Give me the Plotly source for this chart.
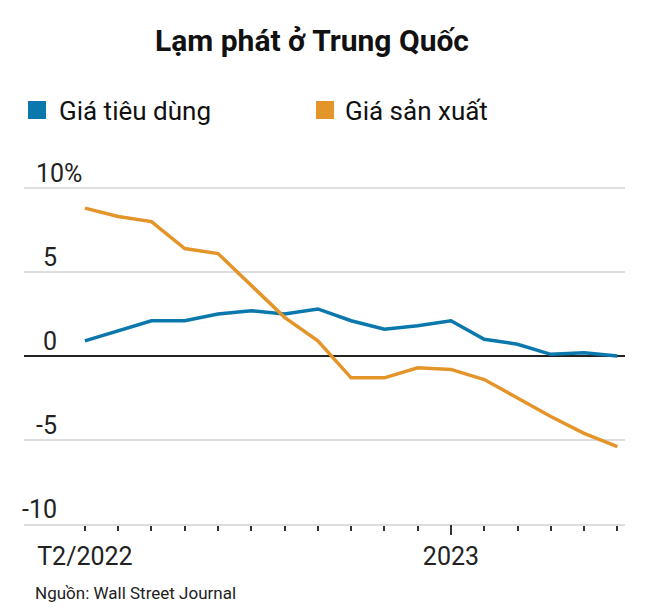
import plotly.graph_objects as go

# ---- data ----
months = ["T2/2022", "T3/2022", "T4/2022", "T5/2022", "T6/2022", "T7/2022", "T8/2022",
          "T9/2022", "T10/2022", "T11/2022", "T12/2022", "T1/2023", "T2/2023",
          "T3/2023", "T4/2023", "T5/2023", "T6/2023"]
cpi = [0.9, 1.5, 2.1, 2.1, 2.5, 2.7, 2.5, 2.8, 2.1, 1.6, 1.8, 2.1, 1.0, 0.7, 0.1, 0.2, 0.0]
ppi = [8.8, 8.3, 8.0, 6.4, 6.1, 4.2, 2.3, 0.9, -1.3, -1.3, -0.7, -0.8, -1.4, -2.5, -3.6, -4.6, -5.4]
series_names = ["Giá tiêu dùng", "Giá sản xuất"]
x_tick_idx = [0, 11]
x_tick_text = ["T2/2022", "2023"]
y_ticks = [10, 5, 0, -5, -10]
y_tick_text = ["10%", "5", "0", "-5", "-10"]
title = "Lạm phát ở Trung Quốc"
source = "Nguồn: Wall Street Journal"

BLUE = "#0a78ad"
ORANGE = "#e4952a"
FONT = "Roboto, sans-serif"

W, H = 646, 616
L, R, T, B = 24, 21, 187, 92
pw, ph = W - L - R, H - T - B

def px(x):
    return (x - L) / pw

def py(y):
    return (H - B - y) / ph

xs = list(range(len(months)))

fig = go.Figure()
fig.add_trace(go.Scatter(x=xs, y=cpi, mode="lines", name=series_names[0],
                         line=dict(color=BLUE, width=3.5), xaxis="x", yaxis="y"))
fig.add_trace(go.Scatter(x=xs, y=ppi, mode="lines", name=series_names[1],
                         line=dict(color=ORANGE, width=3.5), xaxis="x", yaxis="y"))

xr = [-1.83, 16.23]

fig.update_layout(
    width=W, height=H,
    margin=dict(l=L, r=R, t=T, b=B),
    paper_bgcolor="white", plot_bgcolor="white",
    showlegend=False,
    font=dict(family=FONT, color="#222"),
    title=dict(text="<b>" + title + "</b>", x=312 / W, xanchor="center",
               y=1 - 40 / H, yanchor="middle", xref="container", yref="container",
               font=dict(size=30, family=FONT, color="#111")),
    xaxis=dict(range=xr, tickvals=x_tick_idx, ticktext=x_tick_text,
               ticks="outside", ticklen=5, tickwidth=2, tickcolor="#333",
               showgrid=False, zeroline=False,
               showline=True, linecolor="#dddddd", linewidth=2,
               tickfont=dict(size=25, family=FONT, color="#222"),
               ticklabelstandoff=4,
               minor=dict(tickvals=xs, ticks="outside", ticklen=5,
                          tickwidth=2, tickcolor="#333", showgrid=False)),
    xaxis2=dict(range=xr, overlaying="x", anchor="y", side="bottom",
                tickvals=[x_tick_idx[1]], ticks="outside", ticklen=10,
                tickwidth=2, tickcolor="#333", showticklabels=False,
                showgrid=False, zeroline=False, showline=False),
    yaxis=dict(range=[-10, 10.06], tickvals=y_ticks, showticklabels=False,
               showgrid=True, gridcolor="#dedede", gridwidth=2,
               zeroline=True, zerolinecolor="#222", zerolinewidth=2,
               ticks=""),
)

# invisible trace to activate xaxis2
fig.add_trace(go.Scatter(x=[xr[0]], y=[None], xaxis="x2", yaxis="y",
                         mode="lines", showlegend=False, hoverinfo="skip"))

# y tick labels above gridlines
for v, t in zip(y_ticks, y_tick_text):
    if t.endswith("%"):
        fig.add_annotation(x=px(34), xref="paper", y=v, yref="y", text=t,
                           showarrow=False, xanchor="left", yanchor="bottom",
                           yshift=-2, font=dict(size=25, family=FONT, color="#222"))
    else:
        fig.add_annotation(x=px(59), xref="paper", y=v, yref="y", text=t,
                           showarrow=False, xanchor="right", yanchor="bottom",
                           yshift=-2, font=dict(size=25, family=FONT, color="#222"))

# legend
leg = [(28, 57, BLUE, series_names[0]), (316, 343, ORANGE, series_names[1])]
for sx, tx, col, name in leg:
    fig.add_shape(type="rect", xref="paper", yref="paper",
                  x0=px(sx), x1=px(sx + 18), y0=py(119), y1=py(101),
                  fillcolor=col, line=dict(width=0))
    fig.add_annotation(x=px(tx), xref="paper", y=py(111), yref="paper", text=name,
                       showarrow=False, xanchor="left", yanchor="middle",
                       font=dict(size=26, family=FONT, color="#111"))

fig.add_annotation(x=px(33), xref="paper", y=py(593), yref="paper", text=source,
                   showarrow=False, xanchor="left", yanchor="middle",
                   font=dict(size=17, family=FONT, color="#222"))

fig.write_html("out.html", post_script="document.body.style.margin='0';",
               config={"displayModeBar": False})
